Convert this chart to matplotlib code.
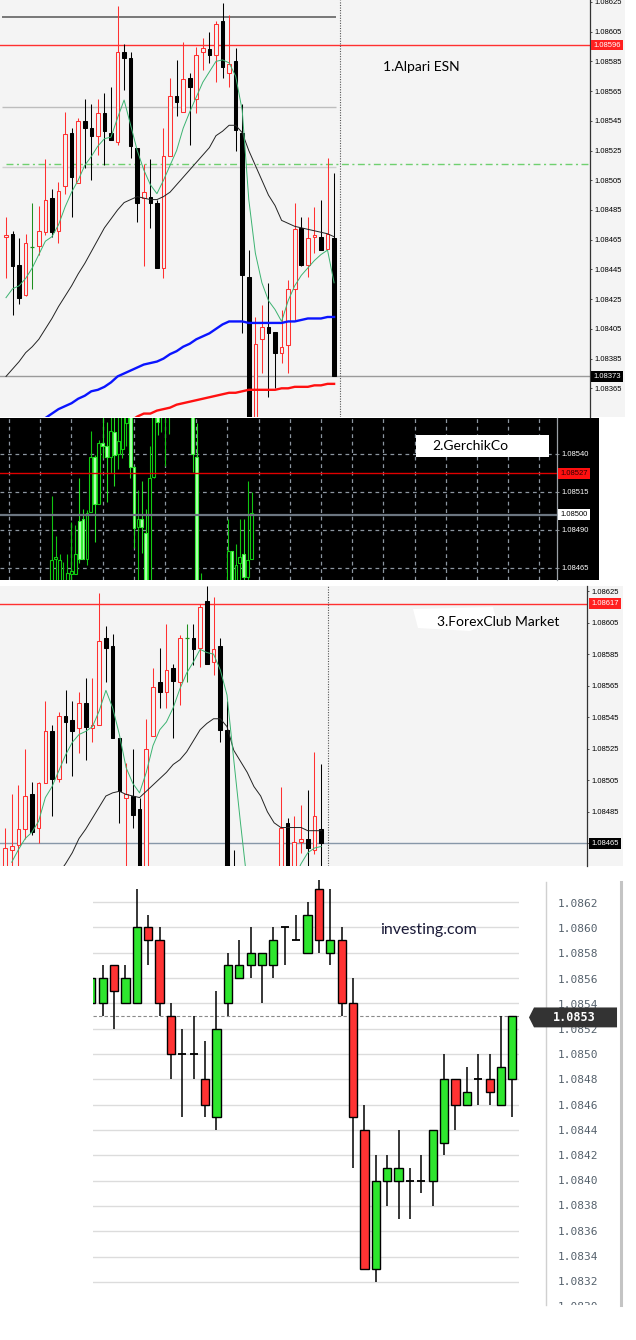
import numpy as np
import matplotlib
matplotlib.use("Agg")
import matplotlib.pyplot as plt
from matplotlib.patches import Rectangle, Polygon
import matplotlib.transforms as mtrans

# ---------------- DATA ----------------
# Panel 1: Alpari ESN (M-chart candles)
alp_open = [1.08467, 1.08469, 1.08448, 1.08428, 1.08460, 1.08461, 1.08470, 1.08493, 1.08471, 1.08501,
            1.08537, 1.08503, 1.08545, 1.08540, 1.08535, 1.08550, 1.08537, 1.08531, 1.08591, 1.08587,
            1.08527, 1.08493, 1.08494, 1.08490, 1.08446, 1.08521, 1.08562, 1.08551, 1.08574, 1.08560,
            1.08591, 1.08593, 1.08589, 1.08612, 1.08577, 1.08585, 1.08537, 1.08440, 1.08330, 1.08398,
            1.08406, 1.08403, 1.08389, 1.08394, 1.08432, 1.08473, 1.08448, 1.08467, 1.08467, 1.08459,
            1.08466]
alp_high = [1.08480, 1.08471, 1.08466, 1.08469, 1.08490, 1.08488, 1.08519, 1.08499, 1.08504, 1.08551,
            1.08540, 1.08547, 1.08560, 1.08556, 1.08560, 1.08564, 1.08568, 1.08622, 1.08597, 1.08591,
            1.08527, 1.08516, 1.08519, 1.08492, 1.08540, 1.08574, 1.08586, 1.08598, 1.08577, 1.08595,
            1.08601, 1.08605, 1.08612, 1.08624, 1.08616, 1.08594, 1.08556, 1.08458, 1.08413, 1.08421,
            1.08436, 1.08403, 1.08418, 1.08438, 1.08490, 1.08480, 1.08480, 1.08487, 1.08492, 1.08520,
            1.08510]
alp_low = [1.08439, 1.08414, 1.08422, 1.08427, 1.08432, 1.08455, 1.08468, 1.08467, 1.08463, 1.08496,
           1.08480, 1.08503, 1.08513, 1.08505, 1.08522, 1.08515, 1.08532, 1.08529, 1.08566, 1.08520,
           1.08477, 1.08447, 1.08473, 1.08446, 1.08439, 1.08521, 1.08548, 1.08551, 1.08529, 1.08550,
           1.08579, 1.08584, 1.08571, 1.08574, 1.08568, 1.08525, 1.08402, 1.08320, 1.08320, 1.08375,
           1.08359, 1.08365, 1.08382, 1.08375, 1.08411, 1.08447, 1.08440, 1.08456, 1.08458, 1.08459,
           1.08373]
alp_close = [1.08468, 1.08447, 1.08426, 1.08463, 1.08460, 1.08471, 1.08492, 1.08470, 1.08498, 1.08536,
             1.08507, 1.08545, 1.08540, 1.08535, 1.08550, 1.08538, 1.08532, 1.08591, 1.08587, 1.08528,
             1.08490, 1.08497, 1.08490, 1.08446, 1.08521, 1.08562, 1.08558, 1.08573, 1.08568, 1.08589,
             1.08594, 1.08589, 1.08610, 1.08581, 1.08583, 1.08539, 1.08441, 1.08330, 1.08395, 1.08406,
             1.08402, 1.08389, 1.08393, 1.08432, 1.08472, 1.08448, 1.08466, 1.08468, 1.08458, 1.08469,
             1.08373]
nan = float("nan")
alp_ma_fast = [1.08426, 1.08432, 1.08434, 1.08439, 1.08446, 1.08455, 1.08464, 1.08467, 1.08475, 1.08487,
               1.08497, 1.08505, 1.08515, 1.08521, 1.08528, 1.08533, 1.08534, 1.08547, 1.08559, 1.08542,
               1.08525, 1.08512, 1.08502, 1.08496, 1.08505, 1.08515, 1.08525, 1.08540, 1.08551, 1.08561,
               1.08571, 1.08578, 1.08585, 1.08586, 1.08584, 1.08575, 1.08552, 1.08492, 1.08456, 1.08436,
               1.08424, 1.08418, 1.08410, 1.08424, 1.08434, 1.08441, 1.08446, 1.08451, 1.08455, 1.08458,
               1.08436]
alp_ma_mid = [1.08373, 1.08378, 1.08383, 1.08389, 1.08393, 1.08398, 1.08405, 1.08412, 1.08420, 1.08427,
              1.08434, 1.08442, 1.08449, 1.08457, 1.08465, 1.08473, 1.08479, 1.08485, 1.08490, 1.08492,
              1.08494, 1.08493, 1.08492, 1.08492, 1.08494, 1.08497, 1.08502, 1.08507, 1.08512, 1.08517,
              1.08522, 1.08527, 1.08535, 1.08538, 1.08542, 1.08542, 1.08537, 1.08525, 1.08515, 1.08505,
              1.08495, 1.08488, 1.08478, 1.08476, 1.08474, 1.08473, 1.08472, 1.08471, 1.08470, 1.08469,
              1.08467]
alp_ma_blue = [nan, nan, nan, nan, nan, nan, 1.08345, 1.08348, 1.08351, 1.08353,
               1.08355, 1.08358, 1.08360, 1.08363, 1.08364, 1.08366, 1.08369, 1.08373, 1.08375, 1.08377,
               1.08379, 1.08381, 1.08382, 1.08383, 1.08385, 1.08388, 1.08390, 1.08393, 1.08395, 1.08398,
               1.08400, 1.08402, 1.08405, 1.08408, 1.08410, 1.08410, 1.08410, 1.08409, 1.08409, 1.08409,
               1.08409, 1.08409, 1.08409, 1.08410, 1.08410, 1.08411, 1.08412, 1.08412, 1.08412, 1.08413,
               1.08413]
alp_ma_red = [nan] * 19 + [1.08343, 1.08346, 1.08348, 1.08348, 1.08350, 1.08351, 1.08352, 1.08354, 1.08355,
                           1.08356, 1.08357, 1.08358, 1.08359, 1.08360, 1.08361, 1.08362, 1.08362, 1.08363,
                           1.08364, 1.08364, 1.08364, 1.08364, 1.08364, 1.08365, 1.08365, 1.08366, 1.08366,
                           1.08366, 1.08367, 1.08367, 1.08368, 1.08368]
alp_ticks = [1.08625, 1.08605, 1.08585, 1.08565, 1.08545, 1.08525, 1.08505, 1.08485, 1.08465,
             1.08445, 1.08425, 1.08405, 1.08385, 1.08365]
alp_lines = {"dark": 1.08615, "red": 1.08596, "grey": 1.08554, "green": 1.08516, "grey2": 1.08514,
             "bid": 1.08373}

# Panel 2: GerchikCo
ger_open = [1.08440, 1.08471, 1.08440, 1.08440, 1.08440, 1.08461, 1.08461, 1.08496, 1.08497, 1.08471,
            1.08502, 1.08538, 1.08507, 1.08547, 1.08545, 1.08538, 1.08554, 1.08540, 1.08543, 1.08560,
            1.08570, 1.08531, 1.08492, 1.08497, 1.08488, 1.08445, 1.08525, 1.08570, 1.08570, 1.08570,
            1.08570, 1.08580, 1.08590, 1.08585, 1.08600, 1.08590, 1.08570, 1.08538, 1.08420, 1.08410,
            1.08430, 1.08410, 1.08430, 1.08410, 1.08430, 1.08440, 1.08476, 1.08440, 1.08468, 1.08474,
            1.08459, 1.08471]
ger_high = [1.08512, 1.08486, 1.08474, 1.08469, 1.08474, 1.08495, 1.08493, 1.08524, 1.08504, 1.08503,
            1.08555, 1.08539, 1.08549, 1.08570, 1.08561, 1.08570, 1.08570, 1.08570, 1.08575, 1.08580,
            1.08570, 1.08532, 1.08516, 1.08522, 1.08504, 1.08545, 1.08575, 1.08575, 1.08580, 1.08580,
            1.08580, 1.08600, 1.08600, 1.08610, 1.08605, 1.08600, 1.08575, 1.08560, 1.08462, 1.08445,
            1.08445, 1.08445, 1.08445, 1.08445, 1.08445, 1.08497, 1.08476, 1.08481, 1.08497, 1.08497,
            1.08522, 1.08515]
ger_low = [1.08430, 1.08440, 1.08430, 1.08430, 1.08430, 1.08440, 1.08461, 1.08468, 1.08471, 1.08467,
           1.08502, 1.08482, 1.08507, 1.08537, 1.08508, 1.08527, 1.08519, 1.08530, 1.08537, 1.08545,
           1.08524, 1.08478, 1.08440, 1.08475, 1.08440, 1.08440, 1.08524, 1.08552, 1.08554, 1.08532,
           1.08553, 1.08575, 1.08575, 1.08580, 1.08580, 1.08575, 1.08528, 1.08430, 1.08400, 1.08400,
           1.08400, 1.08400, 1.08400, 1.08400, 1.08400, 1.08430, 1.08430, 1.08430, 1.08430, 1.08440,
           1.08440, 1.08471]
ger_close = [1.08470, 1.08472, 1.08470, 1.08445, 1.08462, 1.08463, 1.08474, 1.08471, 1.08471, 1.08501,
             1.08538, 1.08507, 1.08547, 1.08545, 1.08538, 1.08555, 1.08539, 1.08548, 1.08570, 1.08575,
             1.08531, 1.08491, 1.08497, 1.08492, 1.08445, 1.08524, 1.08570, 1.08561, 1.08578, 1.08578,
             1.08578, 1.08590, 1.08580, 1.08600, 1.08590, 1.08580, 1.08540, 1.08440, 1.08440, 1.08430,
             1.08410, 1.08430, 1.08410, 1.08430, 1.08410, 1.08476, 1.08440, 1.08467, 1.08472, 1.08459,
             1.08470, 1.08501]
ger_ticks = [1.08540, 1.08515, 1.08490, 1.08465]
ger_lines = {"red": 1.08527, "grey": 1.08500}

# Panel 3: ForexClub Market
fxc_open = [1.08450, 1.08461, 1.08464, 1.08474, 1.08496, 1.08475, 1.08503, 1.08536, 1.08506, 1.08546,
            1.08543, 1.08538, 1.08554, 1.08538, 1.08540, 1.08595, 1.08590, 1.08532, 1.08494, 1.08495,
            1.08487, 1.08420, 1.08533, 1.08567, 1.08561, 1.08576, 1.08567, 1.08595, 1.08595, 1.08589,
            1.08619, 1.08580, 1.08590, 1.08537, 1.08430, 1.08380, 1.08350, 1.08390, 1.08400, 1.08380,
            1.08410, 1.08430, 1.08478, 1.08440, 1.08466, 1.08468, 1.08461, 1.08474]
fxc_high = [1.08475, 1.08496, 1.08502, 1.08525, 1.08504, 1.08504, 1.08555, 1.08540, 1.08548, 1.08562,
            1.08555, 1.08561, 1.08570, 1.08570, 1.08624, 1.08603, 1.08598, 1.08532, 1.08516, 1.08525,
            1.08494, 1.08544, 1.08576, 1.08589, 1.08604, 1.08579, 1.08597, 1.08604, 1.08604, 1.08617,
            1.08628, 1.08621, 1.08595, 1.08555, 1.08461, 1.08420, 1.08400, 1.08420, 1.08430, 1.08420,
            1.08440, 1.08501, 1.08481, 1.08482, 1.08489, 1.08499, 1.08523, 1.08515]
fxc_low = [1.08440, 1.08440, 1.08440, 1.08468, 1.08470, 1.08465, 1.08503, 1.08482, 1.08504, 1.08516,
           1.08508, 1.08522, 1.08518, 1.08529, 1.08540, 1.08567, 1.08532, 1.08478, 1.08440, 1.08475,
           1.08410, 1.08410, 1.08533, 1.08551, 1.08551, 1.08532, 1.08553, 1.08567, 1.08578, 1.08577,
           1.08579, 1.08572, 1.08529, 1.08400, 1.08370, 1.08340, 1.08340, 1.08370, 1.08370, 1.08360,
           1.08390, 1.08420, 1.08430, 1.08430, 1.08459, 1.08440, 1.08458, 1.08440]
fxc_close = [1.08462, 1.08463, 1.08474, 1.08495, 1.08472, 1.08503, 1.08536, 1.08506, 1.08546, 1.08542,
             1.08536, 1.08554, 1.08539, 1.08540, 1.08593, 1.08589, 1.08532, 1.08498, 1.08496, 1.08483,
             1.08420, 1.08525, 1.08564, 1.08561, 1.08575, 1.08568, 1.08595, 1.08595, 1.08588, 1.08615,
             1.08579, 1.08588, 1.08537, 1.08420, 1.08380, 1.08350, 1.08390, 1.08400, 1.08380, 1.08410,
             1.08430, 1.08475, 1.08440, 1.08466, 1.08468, 1.08462, 1.08482, 1.08465]
fxc_ma_fast = [nan, 1.08453, 1.08461, 1.08468, 1.08472, 1.08479, 1.08494, 1.08501, 1.08511, 1.08521,
               1.08529, 1.08534, 1.08536, 1.08539, 1.08549, 1.08562, 1.08551, 1.08534, 1.08513, 1.08503,
               1.08497, 1.08510, 1.08527, 1.08537, 1.08542, 1.08551, 1.08563, 1.08573, 1.08580, 1.08588,
               1.08586, 1.08585, 1.08575, 1.08559, 1.08518, 1.08478, 1.08440, 1.08420, 1.08410, 1.08405,
               1.08410, 1.08420, 1.08430, 1.08443, 1.08452, 1.08459, 1.08462, 1.08463]
fxc_ma_mid = [nan, nan, nan, nan, nan, nan, nan, nan, 1.08446, 1.08452,
              1.08459, 1.08468, 1.08474, 1.08481, 1.08488, 1.08495, 1.08497, 1.08498, 1.08496, 1.08495,
              1.08494, 1.08498, 1.08502, 1.08506, 1.08510, 1.08515, 1.08518, 1.08523, 1.08530, 1.08537,
              1.08541, 1.08544, 1.08544, 1.08539, 1.08524, 1.08517, 1.08510, 1.08501, 1.08495, 1.08485,
              1.08478, 1.08475, 1.08475, 1.08475, 1.08475, 1.08473, 1.08473, 1.08473]
fxc_ticks = [1.08625, 1.08605, 1.08585, 1.08565, 1.08545, 1.08525, 1.08505, 1.08485, 1.08465]
fxc_lines = {"red": 1.08617, "bid": 1.08465}

# Panel 4: investing.com
inv_open = [1.0854, 1.0854, 1.0857, 1.0854, 1.0854, 1.0860, 1.0859, 1.0853, 1.0850, 1.0850,
            1.0848, 1.0845, 1.0854, 1.0856, 1.0857, 1.0857, 1.0857, 1.0860, 1.0859, 1.0858,
            1.0863, 1.0858, 1.0859, 1.0854, 1.0844, 1.0833, 1.0840, 1.0840, 1.0840, 1.0840,
            1.0840, 1.0843, 1.0848, 1.0846, 1.0848, 1.0848, 1.0846, 1.0848]
inv_high = [1.0856, 1.0857, 1.0857, 1.0857, 1.0863, 1.0861, 1.0860, 1.0854, 1.0852, 1.0853,
            1.0851, 1.0855, 1.0858, 1.0859, 1.0860, 1.0858, 1.0860, 1.0860, 1.0861, 1.0862,
            1.08638, 1.0863, 1.0860, 1.0856, 1.0846, 1.0842, 1.0842, 1.0844, 1.0841, 1.0842,
            1.0844, 1.0850, 1.0848, 1.0849, 1.0850, 1.0850, 1.0853, 1.0853]
inv_low = [1.0854, 1.0853, 1.0852, 1.0854, 1.0854, 1.0857, 1.0853, 1.0848, 1.0845, 1.0848,
           1.0845, 1.0844, 1.0853, 1.0856, 1.0856, 1.0854, 1.0856, 1.0857, 1.0859, 1.0858,
           1.0858, 1.0857, 1.0853, 1.0841, 1.0833, 1.0832, 1.0838, 1.0837, 1.0837, 1.0839,
           1.0838, 1.0842, 1.0844, 1.0846, 1.0846, 1.0846, 1.0846, 1.0845]
inv_close = [1.0856, 1.0856, 1.0855, 1.0856, 1.0860, 1.0859, 1.0854, 1.0850, 1.0850, 1.0850,
             1.0846, 1.0852, 1.0857, 1.0857, 1.0858, 1.0858, 1.0859, 1.0860, 1.0859, 1.0861,
             1.0859, 1.0859, 1.0854, 1.0845, 1.0833, 1.0840, 1.0841, 1.0841, 1.0840, 1.0840,
             1.0844, 1.0848, 1.0846, 1.0847, 1.0848, 1.0847, 1.0849, 1.0853]
inv_ticks = [1.0862, 1.0860, 1.0858, 1.0856, 1.0854, 1.0852, 1.0850, 1.0848, 1.0846, 1.0844,
             1.0842, 1.0840, 1.0838, 1.0836, 1.0834, 1.0832, 1.0830]
inv_last = 1.0853

titles = ["1.Alpari ESN", "2.GerchikCo", "3.ForexClub Market", "investing.com"]

# ---------------- FIGURE ----------------
W, H = 636, 1340
fig = plt.figure(figsize=(W / 100, H / 100), dpi=100)
fig.patch.set_facecolor("white")
TXT_FONT = ["Lato", "DejaVu Sans"]
LBL_FONT = ["Liberation Sans", "DejaVu Sans"]


def add_ax(x0, y0, x1, y1, **kw):
    return fig.add_axes([x0 / W, 1 - y1 / H, (x1 - x0) / W, (y1 - y0) / H], **kw)


def bg(x0, y0, x1, y1, color, z=-10):
    fig.patches.append(Rectangle((x0 / W, 1 - y1 / H), (x1 - x0) / W, (y1 - y0) / H,
                                 transform=fig.transFigure, facecolor=color,
                                 edgecolor="none", zorder=z))


def ftext(x, y, s, **kw):
    return fig.text(x / W, 1 - y / H, s, **kw)


def candles(ax, o, h, l, c, width, up_fc, up_ec, dn_fc, dn_ec, up_w, dn_w, doji_c,
            wick_lw=0.75, body_lw=0.75, z=3):
    o, h, l, c = (np.asarray(a, float) for a in (o, h, l, c))
    x = np.arange(len(o))
    up = c > o
    dn = c < o
    dj = c == o
    wc = [up_w if u else (dn_w if d else doji_c) for u, d in zip(up, dn)]
    ax.vlines(x, l, h, colors=wc, lw=wick_lw, zorder=z)
    ax.bar(x[up], (c - o)[up], width, bottom=o[up], facecolor=up_fc, edgecolor=up_ec,
           linewidth=body_lw, zorder=z + 1)
    ax.bar(x[dn], (o - c)[dn], width, bottom=c[dn], facecolor=dn_fc, edgecolor=dn_ec,
           linewidth=body_lw, zorder=z + 1)
    if dj.any():
        ax.hlines(o[dj], x[dj] - width / 2, x[dj] + width / 2, colors=doji_c,
                  lw=wick_lw * 1.2, zorder=z + 1)


def price_box(ax, y, s, fc, tc, x_frac):
    tr = mtrans.blended_transform_factory(ax.transAxes, ax.transData)
    ax.text(x_frac, y, s, transform=tr, fontsize=5.5, family=LBL_FONT, color=tc,
            ha="left", va="center", clip_on=False, zorder=20,
            bbox=dict(boxstyle="square,pad=0.25", fc=fc, ec="none"))


def mt4_axis(ax, ticks, ylim, spine_col="#333333", lab_col="black"):
    ax.set_ylim(*ylim)
    ax.yaxis.tick_right()
    ax.set_yticks(ticks)
    ax.set_yticklabels([f"{t:.5f}" for t in ticks], fontsize=5.5, family=LBL_FONT,
                       color=lab_col)
    ax.tick_params(axis="y", length=1.6, width=0.6, pad=1.8, colors=spine_col,
                   labelcolor=lab_col)
    ax.set_xticks([])
    for s in ("top", "left", "bottom"):
        ax.spines[s].set_visible(False)
    ax.spines["right"].set_color(spine_col)
    ax.spines["right"].set_linewidth(0.9)


# ===== Panel 1 : Alpari =====
BG1 = "#f4f4f4"
bg(0, 0, 625, 417, BG1)
ax1 = add_ax(0, 0, 590, 417)
ax1.set_facecolor("none")
mt4_axis(ax1, alp_ticks, (1.083457, 1.086263))
ax1.set_xlim(-0.915, 89.0)
n1 = len(alp_open)
candles(ax1, alp_open, alp_high, alp_low, alp_close, 0.55,
        BG1, "#ff3030", "black", "black", "#ff3030", "black", "#1f8f1f")
xi = np.arange(n1)
ax1.plot(xi, alp_ma_red, color="#ff1010", lw=1.7, zorder=6)
ax1.plot(xi, alp_ma_blue, color="#0a14ff", lw=1.7, zorder=6)
ax1.plot(xi, alp_ma_mid, color="#222222", lw=0.7, zorder=6)
ax1.plot(xi, alp_ma_fast, color="#3cb371", lw=0.7, zorder=6)
ax1.hlines(alp_lines["dark"], -0.6, n1 - 0.7, color="#555555", lw=1.1, zorder=2)
ax1.hlines(alp_lines["grey"], -0.6, n1 - 0.7, color="#bdbdbd", lw=1.0, zorder=2)
ax1.hlines(alp_lines["grey2"], -0.6, n1 - 0.7, color="#cfcfcf", lw=1.0, zorder=2)
ax1.hlines(alp_lines["green"], 0, 89.0, color="#6fd06f", lw=1.0, zorder=2,
           linestyles=[(0, (5, 2.5, 1.5, 2.5))])
ax1.axhline(alp_lines["red"], color="#ff3030", lw=1.0, zorder=2)
ax1.axhline(alp_lines["bid"], color="#9a9a9a", lw=1.0, zorder=2)
ax1.axvline(50.9, color="#555555", lw=0.8, ls=(0, (1, 1.3)), zorder=2)
price_box(ax1, alp_lines["red"], "1.08596", "#ff2020", "white", 1.0055)
price_box(ax1, alp_lines["bid"], "1.08373", "black", "white", 1.0055)
ftext(383, 67, titles[0], fontsize=10, family=TXT_FONT, color="black", va="center", ha="left")

# ===== Panel 2 : GerchikCo =====
bg(0, 418, 599, 580, "black")
ax2 = add_ax(0, 418, 557, 580)
ax2.set_facecolor("black")
mt4_axis(ax2, ger_ticks, (1.084571, 1.085634), spine_col="#9aa0a6", lab_col="white")
ax2.set_xlim(-13.19, 128.9)
ax2.set_xticks(np.arange(-10.9, 129, 7.96))
ax2.tick_params(axis="x", length=0, labelbottom=False)
ax2.grid(True, color="#8c96a0", lw=0.9, ls=(0, (3, 3)))
ax2.set_axisbelow(True)
candles(ax2, ger_open, ger_high, ger_low, ger_close, 0.72,
        "black", "#11cc11", "#b6ffb6", "#33ee33", "#11c411", "#22dd22", "#22dd22",
        wick_lw=0.8, body_lw=0.8)
ax2.axhline(ger_lines["red"], color="#e00000", lw=1.0, zorder=7)
ax2.axhline(ger_lines["grey"], color="#6c7681", lw=1.6, zorder=7)
price_box(ax2, ger_lines["red"], "1.08527", "#ff1010", "#300000", 1.006)
price_box(ax2, ger_lines["grey"], "1.08500", "white", "black", 1.006)
bg(416, 435, 549, 457, "white", z=5)
ftext(432, 446, titles[1], fontsize=10, family=TXT_FONT, color="black", va="center",
      ha="left", zorder=6)

# ===== Panel 3 : ForexClub =====
bg(0, 586, 623, 866, BG1)
ax3 = add_ax(0, 586, 587, 866)
ax3.set_facecolor("none")
mt4_axis(ax3, fxc_ticks, (1.084506, 1.086282))
ax3.set_xlim(-0.74, 86.5)
n3 = len(fxc_open)
candles(ax3, fxc_open, fxc_high, fxc_low, fxc_close, 0.55,
        BG1, "#ff3030", "black", "black", "#ff3030", "black", "#1f8f1f")
xi3 = np.arange(n3)
ax3.plot(xi3, fxc_ma_mid, color="#222222", lw=0.7, zorder=6)
ax3.plot(xi3, fxc_ma_fast, color="#3cb371", lw=0.7, zorder=6)
ax3.axhline(fxc_lines["red"], color="#ff3030", lw=1.0, zorder=2)
ax3.axhline(fxc_lines["bid"], color="#8797a8", lw=1.0, zorder=2)
ax3.axvline(48.0, color="#555555", lw=0.8, ls=(0, (1, 1.3)), zorder=2)
price_box(ax3, fxc_lines["red"], "1.08617", "#ff2020", "white", 1.0075)
price_box(ax3, fxc_lines["bid"], "1.08465", "black", "white", 1.0075)
fig.patches.append(Polygon([(413 / W, 1 - 609 / H), (493 / W, 1 - 607 / H), (496 / W, 1 - 620 / H),
                            (470 / W, 1 - 631 / H), (418 / W, 1 - 628 / H)],
                           closed=True, transform=fig.transFigure, facecolor="white",
                           edgecolor="none", zorder=5))
ftext(437, 622, titles[2], fontsize=10, family=TXT_FONT, color="black", va="center",
      ha="left", zorder=6)

# ===== Panel 4 : investing.com =====
ax4 = add_ax(93, 880, 519, 1305)
ylim4 = (1.083017, 1.086375)
ax4.set_ylim(*ylim4)
ax4.set_xlim(0.15, 37.58)
ax4.axis("off")
for t in inv_ticks:
    ax4.axhline(t, color="#dcdcdc", lw=1.0, zorder=1)
ax4.axhline(inv_last, color="#8a8a8a", lw=0.8, ls=(0, (3, 2)), zorder=2)
candles(ax4, inv_open, inv_high, inv_low, inv_close, 0.72,
        "#2ee62e", "black", "#ff3333", "black", "black", "black", "black",
        wick_lw=1.1, body_lw=1.0)
ftext(428, 930, titles[3], fontsize=11.5, family=TXT_FONT, color="#1a1a38", va="center",
      ha="center")

ax4l = add_ax(546, 882, 621, 1305)
ax4l.set_ylim(1.083017, 1.086375)
ax4l.set_xlim(0, 1)
ax4l.set_xticks([])
ax4l.set_yticks([])
ax4l.set_facecolor("none")
for s in ("top", "bottom"):
    ax4l.spines[s].set_visible(False)
ax4l.spines["left"].set_color("#d0d0d0")
ax4l.spines["left"].set_linewidth(1.0)
ax4l.spines["right"].set_color("#c4c4c4")
ax4l.spines["right"].set_linewidth(2.2)
for t in inv_ticks:
    ax4l.text(0.16, t, f"{t:.4f}", fontsize=8, family=["DejaVu Sans Mono"], color="#55616c",
              ha="left", va="center", clip_on=True)
tr4 = mtrans.blended_transform_factory(ax4l.transAxes, ax4l.transData)
hh = 0.000079
ax4l.add_patch(Polygon([(-0.227, inv_last), (-0.16, inv_last + hh), (0.947, inv_last + hh),
                        (0.947, inv_last - hh), (-0.16, inv_last - hh)], closed=True,
                       transform=tr4, facecolor="#333333", edgecolor="none", clip_on=False,
                       zorder=10))
ax4l.text(0.37, inv_last, f"{inv_last:.4f}", transform=tr4, fontsize=8.5,
          family=["DejaVu Sans Mono"], fontweight="bold", color="white", ha="center",
          va="center", zorder=11, clip_on=False)

fig.savefig("out.png", dpi=100, facecolor="white")
